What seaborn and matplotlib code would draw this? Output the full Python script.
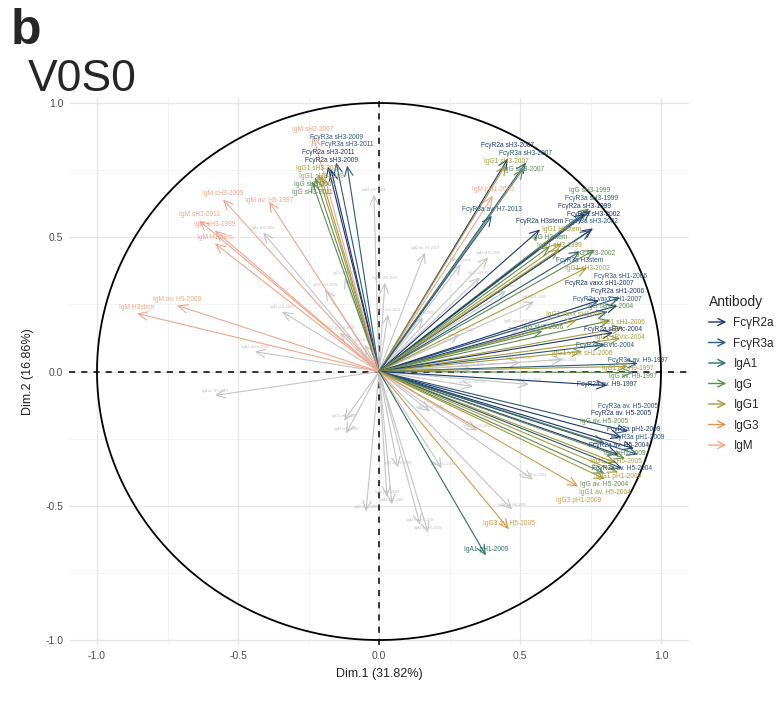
import numpy as np
import pandas as pd
import matplotlib
matplotlib.use("Agg")
import matplotlib.pyplot as plt
import seaborn as sns
from matplotlib.lines import Line2D
from matplotlib.patches import FancyArrowPatch
from matplotlib.legend_handler import HandlerBase

# ---- groups and colours -------------------------------------------------
antibody_order = ["FcγR2a", "FcγR3a", "IgA1", "IgG", "IgG1", "IgG3", "IgM"]
antibody_colors = ["#1c356b", "#2d5878", "#2f6f66", "#5f8b56", "#a39d3e", "#d9984f", "#f2a58b"]

# ---- PCA variable coordinates (grouped variables) -----------------------
var_labels = [
    "IgG sH3-2011", "IgG sH3-2009", "IgG1 sH3-2011", "IgG1 sH3-2009",
    "FcγR2a sH3-2011", "FcγR2a sH3-2009", "FcγR3a sH3-2009", "FcγR3a sH3-2011",
    "IgM sH3-2007",
    "IgM sH3-2009", "IgM av. H9-1997", "IgM sH3-2011", "IgM sH3-1999",
    "IgM H1stem", "IgM av. H9-2009", "IgM H3stem", "IgM pH1-2009",
    "FcγR2a sH3-2007", "FcγR3a sH3-2007", "IgG1 sH3-2007", "IgG sH3-2007",
    "FcγR3a av. H7-2013", "FcγR2a H3stem", "IgG sH3-1999", "FcγR3a sH3-1999",
    "FcγR2a sH3-1999", "FcγR2a sH3-2002", "FcγR3a sH3-2002", "IgG1 H3stem",
    "IgG H3stem", "IgG1 sH3-1999", "IgG sH3-2002", "FcγR3a H3stem", "IgG1 sH3-2002",
    "FcγR3a sH1-2006", "FcγR2a sH1-2006", "FcγR2a vaxx sH1-2007",
    "FcγR3a vaxx sH1-2007", "IgG1 vaxx sH1-2007", "IgG sBVic-2004",
    "IgG1 sH1-2006", "IgG1 sBVic-2004", "FcγR2a sBVic-2004", "IgG sH3-2006",
    "FcγR3a sBVic-2004", "IgG1 vaxx sH1-2006", "FcγR3a av. H9-1997",
    "IgG1 av. H9-1997", "IgG av. H9-1997", "FcγR2a av. H9-1997",
    "FcγR2a av. H5-2005", "FcγR3a av. H5-2005", "IgG av. H5-2005",
    "FcγR2a pH1-2009", "FcγR2a av. H5-2004", "FcγR3a pH1-2009", "IgG pH1-2009",
    "IgG1 av. H5-2005", "FcγR3a av. H5-2004", "IgG av. H5-2004", "IgG1 pH1-2009",
    "IgG1 av. H5-2004", "IgG3 pH1-2009", "IgG3 av. H5-2005", "IgA1 pH1-2009",
]
var_antibody = [
    "IgG", "IgG", "IgG1", "IgG1",
    "FcγR2a", "FcγR2a", "FcγR3a", "FcγR3a",
    "IgM",
    "IgM", "IgM", "IgM", "IgM",
    "IgM", "IgM", "IgM", "IgM",
    "FcγR2a", "FcγR3a", "IgG1", "IgG",
    "FcγR3a", "FcγR2a", "IgG", "FcγR3a",
    "FcγR2a", "FcγR2a", "FcγR3a", "IgG1",
    "IgG", "IgG1", "IgG", "FcγR3a", "IgG1",
    "FcγR3a", "FcγR2a", "FcγR2a",
    "FcγR3a", "IgG1", "IgG",
    "IgG1", "IgG1", "FcγR2a", "IgG",
    "FcγR3a", "IgG1", "FcγR3a",
    "IgG1", "IgG", "FcγR2a",
    "FcγR2a", "FcγR3a", "IgG",
    "FcγR2a", "FcγR2a", "FcγR3a", "IgG",
    "IgG1", "FcγR3a", "IgG", "IgG1",
    "IgG1", "IgG3", "IgG3", "IgA1",
]
dim1 = [
    -0.238, -0.227, -0.216, -0.206,
    -0.181, -0.170, -0.152, -0.113,
    -0.234,
    -0.553, -0.390, -0.638, -0.582,
    -0.582, -0.716, -0.858, 0.404,
    0.457, 0.521, 0.450, 0.512,
    0.400, 0.571, 0.745, 0.752,
    0.730, 0.759, 0.752, 0.649,
    0.606, 0.640, 0.766, 0.713, 0.738,
    0.855, 0.845, 0.780,
    0.811, 0.700, 0.820,
    0.865, 0.855, 0.830, 0.580,
    0.800, 0.720, 0.918,
    0.883, 0.901, 0.809,
    0.860, 0.883, 0.800,
    0.904, 0.850, 0.918, 0.872,
    0.840, 0.862, 0.800, 0.848,
    0.800, 0.706, 0.461, 0.379,
]
dim2 = [
    0.708, 0.723, 0.734, 0.730,
    0.764, 0.752, 0.778, 0.767,
    0.879,
    0.641, 0.633, 0.562, 0.525,
    0.477, 0.246, 0.216, 0.655,
    0.793, 0.778, 0.770, 0.755,
    0.580, 0.529, 0.607, 0.600,
    0.588, 0.533, 0.527, 0.478,
    0.466, 0.455, 0.454, 0.447, 0.387,
    0.275, 0.245, 0.265,
    0.223, 0.190, 0.190,
    0.164, 0.123, 0.145, 0.150,
    0.100, 0.075, 0.030,
    0.019, -0.004, -0.052,
    -0.245, -0.223, -0.265,
    -0.287, -0.310, -0.309, -0.324,
    -0.340, -0.361, -0.380, -0.376,
    -0.400, -0.428, -0.588, -0.685,
]

# ---- remaining variables (drawn in grey) --------------------------------
other_labels = [
    "IgA2 sH3-2011", "IgA2 sH3-2002", "IgG2 sH3-2009", "IgA2 sH1-1997",
    "IgG2 sH3-2011", "IgA2 sBVic-2004", "IgG2 av. H9-2009", "IgG4 H1stem",
    "IgA2 av. H7-2013", "IgG2 sH3-2007", "IgG2 sH3-2002", "IgA2 sH3-2007",
    "IgA2 sH3-1999", "IgG2 sH3-1999", "IgA2 H3stem", "IgG2 H3stem",
    "IgA2 sH1-2006", "IgG2 sH1-2006", "IgA2 vaxx sH1-2007", "IgG2 sBVic-2004",
    "IgA2 av. H9-1997", "IgG4 sH3-2006",
    "IgG2 av. H9-1997", "IgG4 sH1-2006", "IgA2 av. H5-2004", "IgG2 av. H5-2004",
    "IgA2 av. H5-2005", "IgG4 sH1-2006", "IgG2 sBVic-2004", "IgA2 pH1-2009",
    "IgA2 sH1-2007", "IgA2 av. H5-2006", "IgA2 av. H5-2005", "IgG4 av. H5-2005",
    "IgA av. H7-2013", "IgG4 pH1-2009", "IgA2 sH3-2009", "IgA2 sH1-1999",
]
other_dim1 = [
    -0.018, -0.411, -0.191, -0.344,
    -0.121, -0.440, -0.138, -0.050,
    0.163, 0.021, 0.032, 0.156,
    0.387, 0.358, 0.290, 0.450,
    0.550, 0.287, 0.500, 0.652,
    0.500, 0.330,
    0.333, 0.532, 0.181, 0.348,
    0.067, 0.223, 0.546, 0.028,
    0.046, 0.145, 0.174, 0.472,
    -0.582, -0.124, -0.117, -0.046,
]
other_dim2 = [
    0.659, 0.518, 0.305, 0.223,
    0.350, 0.074, 0.145, 0.100,
    0.443, 0.331, 0.212, 0.201,
    0.425, 0.350, 0.400, 0.300,
    0.260, 0.138, 0.160, 0.045,
    0.034, 0.010,
    -0.056, -0.048, -0.149, -0.220,
    -0.358, -0.361, -0.402, -0.466,
    -0.495, -0.570, -0.600, -0.514,
    -0.089, -0.183, -0.231, -0.521,
]

variables = pd.DataFrame({"label": var_labels, "Antibody": var_antibody,
                          "Dim.1": dim1, "Dim.2": dim2})
others = pd.DataFrame({"label": other_labels, "Dim.1": other_dim1, "Dim.2": other_dim2})
color_of = dict(zip(antibody_order, antibody_colors))

# ---- theme ----------------------------------------------------------------
sns.set_theme(style="whitegrid")
plt.rcParams["font.family"] = ["Liberation Sans", "DejaVu Sans"]

W, H = 782, 704
fig = plt.figure(figsize=(W / 100, H / 100), dpi=100)
left, right, top, bottom = 68.8, 689.2, 97.6, 645.4
ax = fig.add_axes([left / W, 1 - bottom / H, (right - left) / W, (bottom - top) / H])
ax.set_facecolor("white")
ax.set_xlim(-1.1, 1.1)
ax.set_ylim(-1.02, 1.02)

# correlation circle
theta = np.linspace(0, 2 * np.pi, 400)
circle = pd.DataFrame({"x": np.cos(theta), "y": np.sin(theta)})
sns.lineplot(data=circle, x="x", y="y", sort=False, estimator=None,
             color="black", lw=1.3, ax=ax, zorder=3)

ax.axhline(0, color="black", lw=1.1, ls=(0, (4, 4)), zorder=2)
ax.axvline(0, color="black", lw=1.1, ls=(0, (4, 4)), zorder=2)

arrow_kw = dict(arrowstyle="->,head_length=0.55,head_width=0.25",
                mutation_scale=12, shrinkA=0, shrinkB=0, lw=0.8)

texts = []
for _, r in others.iterrows():
    ax.annotate("", xy=(r["Dim.1"], r["Dim.2"]), xytext=(0, 0),
                arrowprops=dict(color="#c4c4c4", **arrow_kw), zorder=4)
    texts.append(ax.text(r["Dim.1"], r["Dim.2"], r["label"], fontsize=2.6,
                         color="#bdbdbd", ha="center", va="center", zorder=5))

for _, r in variables.iterrows():
    c = color_of[r["Antibody"]]
    ax.annotate("", xy=(r["Dim.1"], r["Dim.2"]), xytext=(0, 0),
                arrowprops=dict(color=c, **arrow_kw), zorder=6)
    texts.append(ax.text(r["Dim.1"], r["Dim.2"], r["label"], fontsize=4.8,
                         color=c, ha="center", va="center", zorder=7))

# ---- simple label repulsion (in pixels) ----------------------------------
fig.canvas.draw()
renderer = fig.canvas.get_renderer()
boxes = [t.get_window_extent(renderer) for t in texts]
bw = np.array([b.width for b in boxes])
bh = np.array([b.height for b in boxes])
tips = ax.transData.transform(np.c_[np.r_[other_dim1, dim1], np.r_[other_dim2, dim2]])
anchor = tips + np.c_[np.zeros(len(tips)), bh / 2 + 2.5]
pos = anchor.copy()
n = len(texts)
idx = np.arange(n)
tie = np.sign(idx[:, None] - idx[None, :]).astype(float)
axbox = ax.get_window_extent(renderer)
for it in range(1500):
    dx = pos[:, 0][:, None] - pos[:, 0][None, :]
    dy = pos[:, 1][:, None] - pos[:, 1][None, :]
    ox = (bw[:, None] + bw[None, :]) / 2 + 1.5 - np.abs(dx)
    oy = (bh[:, None] + bh[None, :]) / 2 + 1.0 - np.abs(dy)
    hit = (ox > 0) & (oy > 0)
    np.fill_diagonal(hit, False)
    sx = np.where(dx == 0, tie, np.sign(dx))
    sy = np.where(dy == 0, tie, np.sign(dy))
    vert = oy < 2.5 * ox
    my = np.where(hit & vert, oy * sy, 0).sum(1)
    mx = np.where(hit & ~vert, ox * sx, 0).sum(1)
    pos += 0.15 * np.c_[mx, my]
    pull = 0.01 if it < 1200 else 0.0
    pos += pull * (anchor - pos)
    pos[:, 0] = np.clip(pos[:, 0], axbox.x0 + bw / 2, axbox.x1 - bw / 2)
    pos[:, 1] = np.clip(pos[:, 1], axbox.y0 + bh / 2, axbox.y1 - bh / 2)
inv = ax.transData.inverted()
for t, p in zip(texts, pos):
    t.set_position(inv.transform(p))

# axes, ticks, grid
ticks = [-1.0, -0.5, 0.0, 0.5, 1.0]
ax.set_xticks(ticks)
ax.set_yticks(ticks)
ax.set_xticklabels([f"{t:.1f}" for t in ticks])
ax.set_yticklabels([f"{t:.1f}" for t in ticks])
ax.set_xticks([-0.75, -0.25, 0.25, 0.75], minor=True)
ax.set_yticks([-0.75, -0.25, 0.25, 0.75], minor=True)
ax.grid(which="major", color="#e6e6e6", lw=0.9)
ax.grid(which="minor", color="#eeeeee", lw=0.5)
ax.tick_params(axis="both", which="both", length=0, labelsize=7.5,
               labelcolor="#4d4d4d", pad=4)
for s in ax.spines.values():
    s.set_visible(False)
ax.set_xlabel("Dim.1 (31.82%)", fontsize=9, color="#222222", labelpad=5)
ax.set_ylabel("Dim.2 (16.86%)", fontsize=9, color="#222222", labelpad=8)


# legend with arrow keys
class ArrowKey(HandlerBase):
    def create_artists(self, legend, orig_handle, xdescent, ydescent,
                       width, height, fontsize, trans):
        y = height / 2 - ydescent
        a = FancyArrowPatch((-xdescent, y), (width - xdescent, y),
                            arrowstyle="->,head_length=0.5,head_width=0.25",
                            mutation_scale=10, lw=1.0,
                            color=orig_handle.get_color(), transform=trans,
                            shrinkA=0, shrinkB=0)
        return [a]


handles = [Line2D([], [], color=c) for c in antibody_colors]
leg = fig.legend(handles, antibody_order, handler_map={Line2D: ArrowKey()},
                 title="Antibody", loc="upper left",
                 bbox_to_anchor=(698 / W, 1 - 284 / H), frameon=False,
                 fontsize=8.5, title_fontsize=10, handlelength=1.5,
                 handletextpad=0.6, labelspacing=0.72, alignment="left")

# panel tag and title
fig.text(11 / W, 1 - 44 / H, "b", fontsize=36, fontweight="bold", va="baseline")
fig.text(28 / W, 1 - 91 / H, "V0S0", fontsize=32, va="baseline")

fig.savefig("out.png", dpi=100, facecolor="white")
